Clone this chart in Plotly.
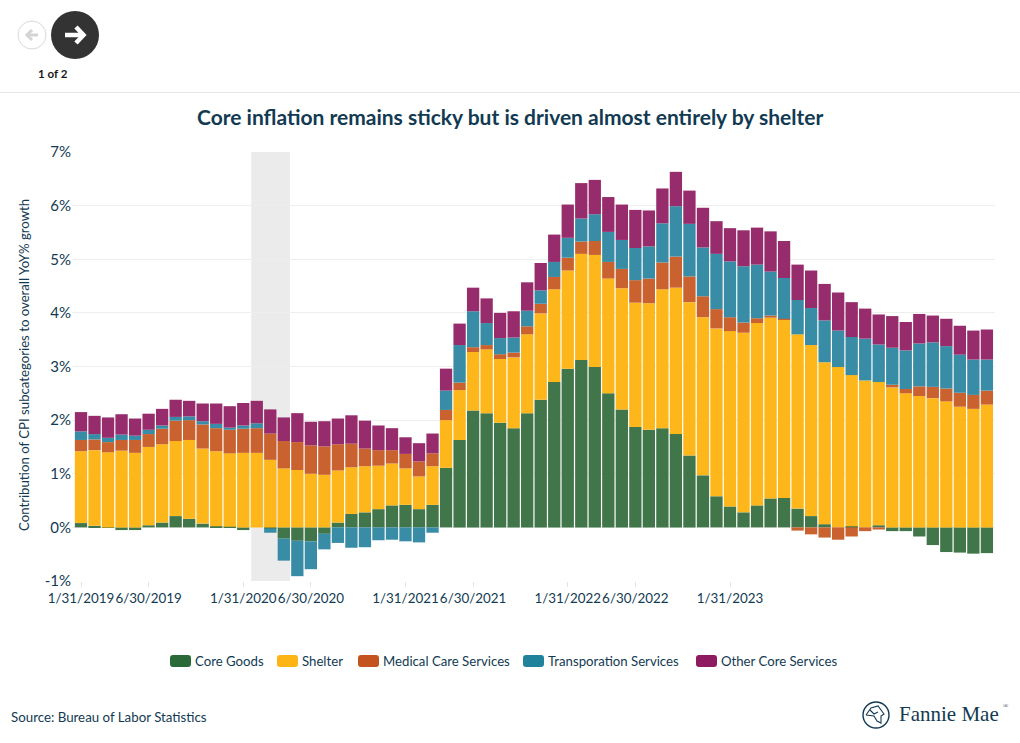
import plotly.graph_objects as go

FONT = "Lato"
INK = "#123a52"

series_names = ["Core Goods", "Shelter", "Medical Care Services", "Transporation Services", "Other Core Services"]
legend_colors = ["#2a6a38", "#fdb515", "#c5531f", "#21829c", "#8e1a60"]
bar_colors = ["#41754a", "#fdb71a", "#c9622f", "#388ca5", "#962c6b"]

dates = [f"{m}/{d}/{y}" for y in range(2019, 2025)
         for m, d in [(1,31),(2,28),(3,31),(4,30),(5,31),(6,30),(7,31),(8,31),(9,30),(10,31),(11,30),(12,31)]][:68]
tick_labels = ["1/31/2019", "6/30/2019", "1/31/2020", "6/30/2020", "1/31/2021", "6/30/2021", "1/31/2022", "6/30/2022", "1/31/2023"]

core_goods = [.08,.03,-.01,-.05,-.05,.04,.09,.21,.16,.07,.02,.01,-.05,0,-.02,-.21,-.25,-.26,-.12,.09,.25,.28,.34,.41,.42,.34,.42,1.11,1.63,2.18,2.13,1.95,1.85,2.13,2.38,2.71,2.96,3.12,2.99,2.50,2.20,1.87,1.82,1.85,1.74,1.34,.97,.58,.39,.28,.41,.54,.55,.35,.21,.06,0,.02,0,.04,-.07,-.07,-.17,-.33,-.46,-.47,-.49,-.48]
shelter = [1.34,1.41,1.40,1.43,1.39,1.46,1.46,1.40,1.47,1.40,1.40,1.37,1.39,1.39,1.26,1.10,1.07,1.00,.98,.97,.87,.86,.81,.78,.68,.61,.72,.89,.93,1.09,1.19,1.19,1.32,1.47,1.61,1.73,1.83,1.98,2.09,2.14,2.26,2.32,2.36,2.59,2.73,2.86,2.95,3.13,3.27,3.35,3.40,3.37,3.33,3.25,3.19,3.02,2.99,2.82,2.74,2.67,2.61,2.50,2.45,2.41,2.35,2.25,2.21,2.29]
medical = [.21,.20,.19,.20,.24,.24,.29,.38,.37,.45,.43,.44,.45,.46,.49,.51,.52,.53,.53,.49,.44,.33,.29,.25,.27,.28,.24,.19,.14,.09,.08,.09,.09,.15,.18,.23,.24,.23,.26,.31,.36,.42,.46,.50,.58,.48,.39,.36,.26,.19,.09,.04,.01,-.06,-.13,-.19,-.23,-.17,-.07,-.04,.05,.08,.18,.21,.24,.26,.26,.26]
transport = [.16,.10,.08,.10,.08,.08,.06,.07,.07,.06,.08,.04,.06,.09,-.08,-.41,-.66,-.52,-.29,-.29,-.38,-.37,-.24,-.23,-.26,-.28,-.10,.36,.70,.67,.41,.30,.28,.29,.25,.28,.37,.43,.50,.56,.54,.60,.60,.73,.94,.98,.91,1.03,1.04,1.05,1.00,.82,.76,.64,.69,.78,.68,.71,.78,.70,.69,.72,.80,.83,.79,.71,.66,.58]
other = [.36,.34,.38,.38,.32,.30,.31,.32,.29,.33,.38,.40,.42,.42,.45,.44,.54,.44,.47,.48,.53,.52,.46,.41,.31,.34,.37,.41,.40,.44,.46,.47,.49,.53,.51,.51,.62,.66,.64,.65,.66,.71,.67,.65,.64,.62,.74,.61,.62,.67,.69,.75,.69,.66,.70,.68,.71,.65,.56,.56,.59,.53,.55,.50,.51,.54,.54,.56]

y_ticks = [-1, 0, 1, 2, 3, 4, 5, 6, 7]
all_series = [core_goods, shelter, medical, transport, other]

W, H = 1020, 743
L, R, T, B = 72, 995, 152, 581


def fx(p):
    return (p - L) / (R - L)


def fy(p):
    return (B - p) / (B - T)


def path(points, close=True):
    d = "M" + " L".join(f"{fx(x):.5f},{fy(y):.5f}" for x, y in points)
    return d + (" Z" if close else "")


def rounded(x0, y0, x1, y1, r):
    return (f"M{fx(x0+r):.5f},{fy(y0):.5f} L{fx(x1-r):.5f},{fy(y0):.5f} "
            f"Q{fx(x1):.5f},{fy(y0):.5f} {fx(x1):.5f},{fy(y0+r):.5f} L{fx(x1):.5f},{fy(y1-r):.5f} "
            f"Q{fx(x1):.5f},{fy(y1):.5f} {fx(x1-r):.5f},{fy(y1):.5f} L{fx(x0+r):.5f},{fy(y1):.5f} "
            f"Q{fx(x0):.5f},{fy(y1):.5f} {fx(x0):.5f},{fy(y1-r):.5f} L{fx(x0):.5f},{fy(y0+r):.5f} "
            f"Q{fx(x0):.5f},{fy(y0):.5f} {fx(x0+r):.5f},{fy(y0):.5f} Z")


def circle(cx, cy, r, **kw):
    return dict(type="circle", xref="paper", yref="paper", x0=fx(cx-r), x1=fx(cx+r),
                y0=fy(cy+r), y1=fy(cy-r), **kw)


def text(x, y, s, size, color=INK, anchor="left", family=FONT, **kw):
    px = x - 2 if anchor == "left" else x
    return dict(xref="paper", yref="paper", x=fx(px), y=fy(y), text=s, showarrow=False,
                xanchor=anchor, yanchor="middle", font=dict(family=family, size=size, color=color), **kw)


fig = go.Figure()
for name, vals, col in zip(series_names, all_series, bar_colors):
    fig.add_trace(go.Bar(x=dates, y=vals, name=name, marker=dict(color=col, line=dict(width=0)),
                         hovertemplate="%{x}<br>" + name + ": %{y:.2f}%<extra></extra>"))

shapes = [
    # recession band
    dict(type="rect", xref="x", yref="paper", x0=12.59, x1=15.46, y0=0, y1=1, fillcolor="#ebebeb",
         line_width=0, layer="below"),
    # header rule
    dict(type="line", xref="paper", yref="paper", x0=fx(0), x1=fx(W), y0=fy(92.5), y1=fy(92.5),
         line=dict(color="#e6e6e6", width=1)),
    # navigation buttons
    circle(32, 35, 14, line=dict(color="#d9d9d9", width=1), fillcolor="white"),
    dict(type="path", xref="paper", yref="paper", line=dict(color="#d4d4d4", width=3),
         path=path([(38, 35), (27, 35)], False)),
    dict(type="path", xref="paper", yref="paper", line=dict(color="#d4d4d4", width=3),
         path=path([(32, 30), (27, 35), (32, 40)], False)),
    circle(75, 35, 24, line_width=0, fillcolor="#333333"),
    dict(type="path", xref="paper", yref="paper", line=dict(color="white", width=4.5),
         path=path([(65, 35), (83, 35)], False)),
    dict(type="path", xref="paper", yref="paper", line=dict(color="white", width=4.5),
         path=path([(76, 27), (83.5, 35), (76, 43)], False)),
    # logo
    circle(876, 715, 13, line=dict(color=INK, width=1.4), fillcolor="white"),
    dict(type="path", xref="paper", yref="paper", line=dict(color=INK, width=1.1),
         path=path([(866, 715), (871, 708), (878, 706), (884, 714), (881, 716), (881, 723), (877, 721),
                    (874, 716), (866, 715)], False)),
    dict(type="path", xref="paper", yref="paper", line=dict(color=INK, width=1.1),
         path=path([(870, 710), (874, 714), (878, 712)], False)),
]

annotations = [
    text(53, 74, "<b>1 of 2</b>", 11.5, color="#1a1a1a", anchor="center"),
    text(510, 116.5, "<b>Core inflation remains sticky but is driven almost entirely by shelter</b>", 21, anchor="center"),
    text(11, 717, "Source: Bureau of Labor Statistics", 13.3),
    text(899, 714, "Fannie Mae", 21, family="Liberation Serif"),
    text(1003, 706, "®", 7, family="Liberation Serif"),
    dict(xref="paper", yref="paper", x=fx(24), y=fy(365), text="Contribution of CPI subcategories to overall YoY% growth",
         textangle=-90, showarrow=False, xanchor="center", yanchor="middle",
         font=dict(family=FONT, size=13.2, color=INK)),
]

swatch_x = [170, 277, 358, 523, 696]
for sx, name, col in zip(swatch_x, series_names, legend_colors):
    shapes.append(dict(type="path", xref="paper", yref="paper", path=rounded(sx, 655, sx + 21, 667, 3),
                       fillcolor=col, line_width=0))
    annotations.append(text(sx + 25, 661, name, 13.2))

fig.update_layout(
    width=W, height=H, autosize=False, barmode="relative", bargap=0.09,
    showlegend=False, paper_bgcolor="white", plot_bgcolor="white",
    margin=dict(l=L, r=W - R, t=T, b=H - B, pad=0),
    font=dict(family=FONT, color=INK),
    shapes=shapes, annotations=annotations,
    xaxis=dict(type="category", categoryorder="array", categoryarray=dates,
               range=[-0.666, 67.60], tickmode="array", tickvals=tick_labels, ticktext=tick_labels,
               tickangle=0, ticks="outside", ticklen=5, tickcolor="#e3e3e3", tickwidth=1,
               tickfont=dict(size=13.4, color=INK), showgrid=False, zeroline=False,
               showline=False, automargin=False),
    yaxis=dict(range=[-1, 7], tickmode="array", tickvals=y_ticks, ticktext=[f"{v}%" for v in y_ticks],
               tickfont=dict(size=15, color=INK), showgrid=True, gridcolor="#eeeeee", gridwidth=1,
               zeroline=True, zerolinecolor="#eeeeee", zerolinewidth=1, showline=False, ticks="", automargin=False),
)

fig.write_html("out.html", config={"displayModeBar": False},
               post_script="document.body.style.margin='0';document.documentElement.style.overflow='hidden';")
